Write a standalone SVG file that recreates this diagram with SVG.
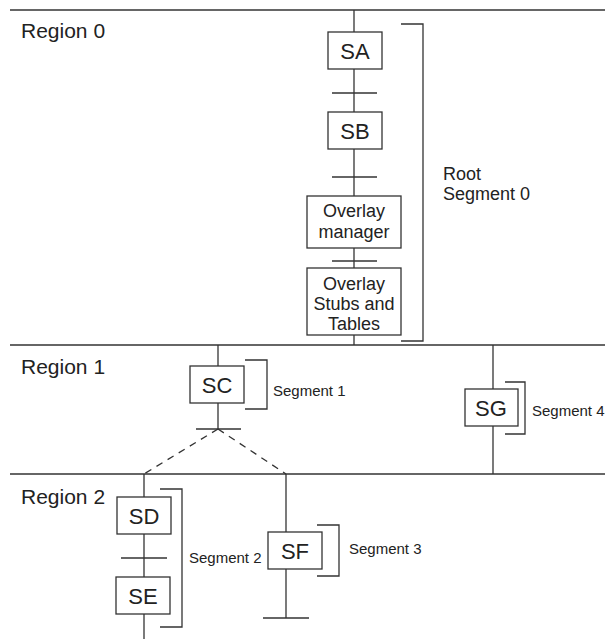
<svg xmlns="http://www.w3.org/2000/svg" width="605" height="639" viewBox="0 0 605 639">
<style>
.ln{stroke:#333;stroke-width:1.3;fill:none}
.box{stroke:#333;stroke-width:1.3;fill:#fff}
.dash{stroke:#333;stroke-width:1.3;fill:none;stroke-dasharray:7,6}
text{font-family:"Liberation Sans",Arial,sans-serif;fill:#222}
.rg{font-size:21px}
.nd{font-size:22px;text-anchor:middle}
.ov{font-size:18px;text-anchor:middle}
.sg{font-size:15px}
.rt{font-size:18px}
</style>
<rect width="605" height="639" fill="#fff"/>
<g id="regions">
<line class="ln" x1="10" y1="10" x2="605" y2="10"/>
<line class="ln" x1="10" y1="345" x2="605" y2="345"/>
<line class="ln" x1="10" y1="474" x2="605" y2="474"/>
<text class="rg" x="21" y="38">Region 0</text>
<text class="rg" x="21" y="374">Region 1</text>
<text class="rg" x="21" y="504">Region 2</text>
</g>
<g id="connectors">
<line class="ln" x1="354" y1="10" x2="354" y2="345"/>
<line class="ln" x1="332" y1="93" x2="377" y2="93"/>
<line class="ln" x1="332" y1="177" x2="377" y2="177"/>
<line class="ln" x1="332" y1="261" x2="377" y2="261"/>
<line class="ln" x1="218" y1="345" x2="218" y2="429"/>
<line class="ln" x1="196" y1="429" x2="241" y2="429"/>
<line class="dash" x1="218" y1="429" x2="144" y2="474"/>
<line class="dash" x1="218" y1="429" x2="286" y2="474"/>
<line class="ln" x1="493" y1="345" x2="493" y2="474"/>
<line class="ln" x1="144" y1="474" x2="144" y2="639"/>
<line class="ln" x1="121" y1="558" x2="167" y2="558"/>
<line class="ln" x1="286" y1="474" x2="286" y2="618"/>
<line class="ln" x1="263" y1="618" x2="309" y2="618"/>
</g>
<g id="SA"><rect class="box" x="328" y="32" width="54" height="37"/><text class="nd" x="355" y="59">SA</text></g>
<g id="SB"><rect class="box" x="328" y="112" width="54" height="37"/><text class="nd" x="355" y="139">SB</text></g>
<g id="overlay-manager"><rect class="box" x="307" y="196" width="94" height="52"/><text class="ov" x="354" y="217">Overlay</text><text class="ov" x="354" y="238">manager</text></g>
<g id="overlay-stubs"><rect class="box" x="307" y="268" width="94" height="67"/><text class="ov" x="354" y="290">Overlay</text><text class="ov" x="354" y="310">Stubs and</text><text class="ov" x="354" y="330">Tables</text></g>
<g id="root-segment"><polyline class="ln" points="401,24 423,24 423,341 401,341"/><text class="rt" x="443" y="180">Root</text><text class="rt" x="443" y="200">Segment 0</text></g>
<g id="SC"><rect class="box" x="190" y="366" width="54" height="37"/><text class="nd" x="217" y="393">SC</text></g>
<g id="segment1"><polyline class="ln" points="245,360 267,360 267,409 245,409"/><text class="sg" x="273" y="396">Segment 1</text></g>
<g id="SG"><rect class="box" x="465" y="389" width="53" height="37"/><text class="nd" x="491" y="416">SG</text></g>
<g id="segment4"><polyline class="ln" points="505,382 525,382 525,434 505,434"/><text class="sg" x="532" y="416">Segment 4</text></g>
<g id="SD"><rect class="box" x="117" y="497" width="54" height="37"/><text class="nd" x="144" y="524">SD</text></g>
<g id="SE"><rect class="box" x="116" y="577" width="54" height="37"/><text class="nd" x="143" y="604">SE</text></g>
<g id="segment2"><polyline class="ln" points="160,489 182,489 182,627 160,627"/><text class="sg" x="189" y="563">Segment 2</text></g>
<g id="SF"><rect class="box" x="268" y="532" width="54" height="37"/><text class="nd" x="295" y="559">SF</text></g>
<g id="segment3"><polyline class="ln" points="317,525 339,525 339,576 317,576"/><text class="sg" x="349" y="554">Segment 3</text></g>
</svg>
